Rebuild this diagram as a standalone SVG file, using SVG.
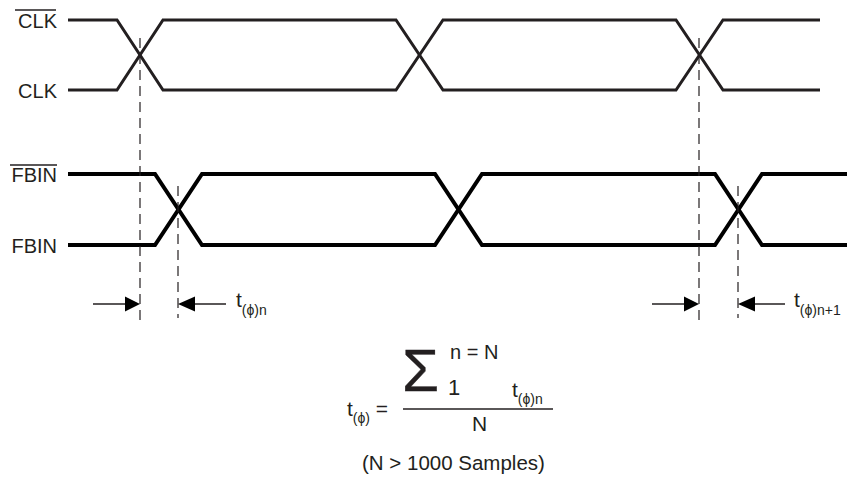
<svg xmlns="http://www.w3.org/2000/svg" width="847" height="489" viewBox="0 0 847 489">
<style>
.lbl{font-family:"Liberation Sans",Arial,sans-serif;font-size:20px;fill:#231f20}
.sub{font-family:"Liberation Sans",Arial,sans-serif;font-size:14px;fill:#231f20}
.clk{fill:none;stroke:#231f20;stroke-width:3;stroke-linejoin:miter}
.fb{fill:none;stroke:#000;stroke-width:4;stroke-linejoin:miter}
.dash{stroke:#231f20;stroke-width:1.2;stroke-dasharray:10,6;fill:none}
.arr{stroke:#231f20;stroke-width:1.5;fill:none}
.head{fill:#000}
.ovl{stroke:#231f20;stroke-width:1.3}
</style>
<rect width="847" height="489" fill="#fff"/>
<g id="labels">
<text class="lbl" x="57" y="28" text-anchor="end">CLK</text>
<line class="ovl" x1="15" y1="10" x2="56" y2="10"/>
<text class="lbl" x="57" y="98" text-anchor="end">CLK</text>
<text class="lbl" x="57" y="182" text-anchor="end">FBIN</text>
<line class="ovl" x1="10" y1="165" x2="57" y2="165"/>
<text class="lbl" x="57" y="253" text-anchor="end">FBIN</text>
</g>
<g id="clkbar"><polyline class="clk" points="68,20 117,20 163,90 396,90 443,20 676,20 723,90 820,90"/></g>
<g id="clk"><polyline class="clk" points="68,90 117,90 163,20 396,20 443,90 676,90 723,20 820,20"/></g>
<g id="fbinbar"><polyline class="fb" points="68,174 155,174 202,245 435,245 482,174 715,174 762,245 847,245"/></g>
<g id="fbin"><polyline class="fb" points="68,245 155,245 202,174 435,174 482,245 715,245 762,174 847,174"/></g>
<g id="connectors">
<line class="dash" x1="140" y1="38" x2="140" y2="323"/>
<line class="dash" x1="178" y1="186" x2="178" y2="318"/>
<line class="dash" x1="699" y1="38" x2="699" y2="323"/>
<line class="dash" x1="738" y1="186" x2="738" y2="318"/>
<line class="arr" x1="93" y1="304" x2="126" y2="304"/>
<polygon class="head" points="140,304 125,296.5 125,311.5"/>
<line class="arr" x1="194" y1="304" x2="226" y2="304"/>
<polygon class="head" points="178,304 195,296.5 195,311.5"/>
<line class="arr" x1="652" y1="304" x2="685" y2="304"/>
<polygon class="head" points="699,304 684,296.5 684,311.5"/>
<line class="arr" x1="754" y1="304" x2="785" y2="304"/>
<polygon class="head" points="738,304 755,296.5 755,311.5"/>
</g>
<g id="delay-labels">
<text class="lbl" x="236" y="307" style="font-size:21px">t<tspan class="sub" dy="8">(ϕ)n</tspan></text>
<text class="lbl" x="794" y="307" style="font-size:21px">t<tspan class="sub" dy="8">(ϕ)n+1</tspan></text>
</g>
<g id="formula">
<text class="lbl" x="347" y="416" style="font-size:21px">t<tspan class="sub" dy="7">(ϕ)</tspan><tspan dy="-7"> =</tspan></text>
<line x1="403" y1="409" x2="553" y2="409" stroke="#231f20" stroke-width="1.3"/>
<text class="lbl" x="402" y="391" style="font-size:60px;stroke:#231f20;stroke-width:0.3">Σ</text>
<text class="lbl" x="450" y="359">n = N</text>
<text class="lbl" x="448" y="395" style="font-size:22px">1</text>
<text class="lbl" x="512" y="397" style="font-size:21px">t<tspan class="sub" dy="7">(ϕ)n</tspan></text>
<text class="lbl" x="472" y="431" style="font-size:21px">N</text>
<text class="lbl" x="362" y="470" style="font-size:20.5px">(N &gt; 1000 Samples)</text>
</g>
</svg>
